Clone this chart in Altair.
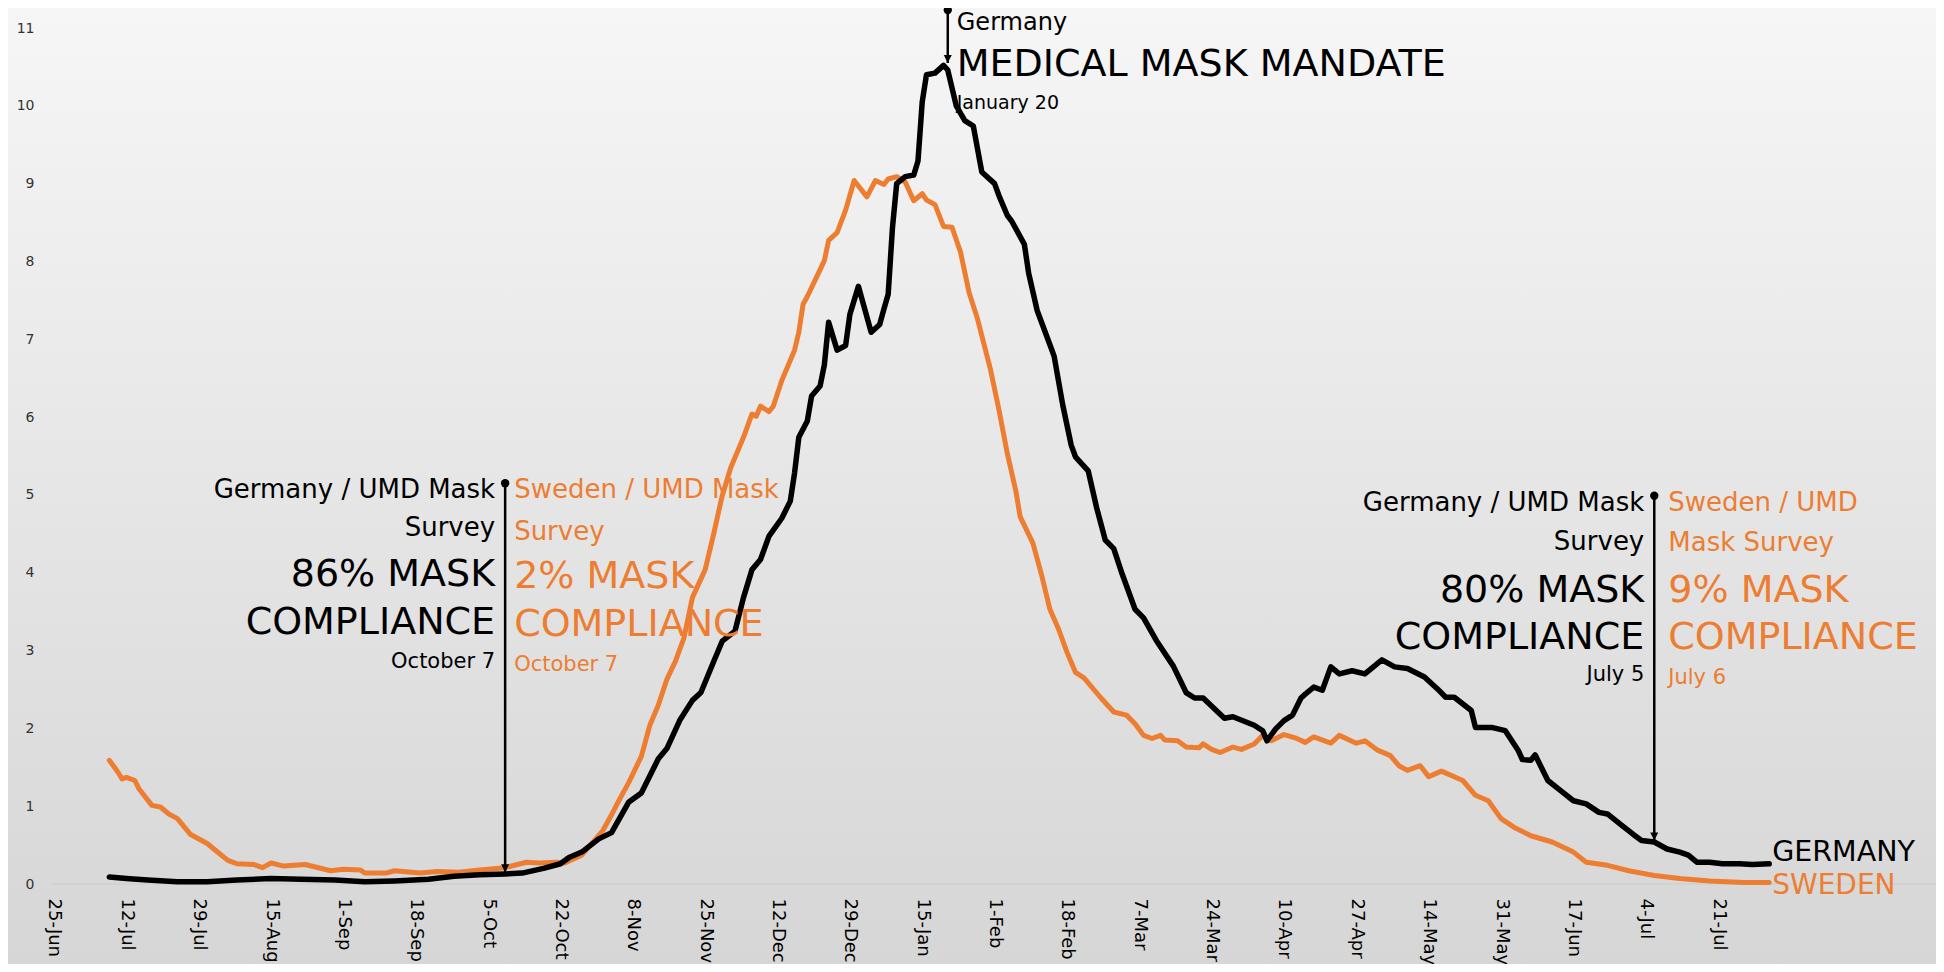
import altair as alt
import pandas as pd

# ---------------- data ----------------
tick_dates = ["2020-06-25", "2020-07-12", "2020-07-29", "2020-08-15", "2020-09-01",
              "2020-09-18", "2020-10-05", "2020-10-22", "2020-11-08", "2020-11-25",
              "2020-12-12", "2020-12-29", "2021-01-15", "2021-02-01", "2021-02-18",
              "2021-03-07", "2021-03-24", "2021-04-10", "2021-04-27", "2021-05-14",
              "2021-05-31", "2021-06-17", "2021-07-04", "2021-07-21"]

germany_dates = [
    "2020-07-08", "2020-07-12", "2020-07-17", "2020-07-24", "2020-07-31", "2020-08-07",
    "2020-08-15", "2020-08-22", "2020-08-30", "2020-09-06", "2020-09-13", "2020-09-21",
    "2020-09-27", "2020-10-03", "2020-10-09", "2020-10-13", "2020-10-18", "2020-10-22",
    "2020-10-24", "2020-10-27", "2020-10-31", "2020-11-03", "2020-11-07", "2020-11-10",
    "2020-11-14", "2020-11-16", "2020-11-19", "2020-11-22", "2020-11-24", "2020-11-27",
    "2020-11-29", "2020-12-02", "2020-12-04", "2020-12-06", "2020-12-08", "2020-12-10",
    "2020-12-13", "2020-12-15", "2020-12-16", "2020-12-17", "2020-12-19", "2020-12-20",
    "2020-12-22", "2020-12-23", "2020-12-24", "2020-12-26", "2020-12-28", "2020-12-29",
    "2020-12-31", "2021-01-03", "2021-01-05", "2021-01-06", "2021-01-07", "2021-01-08",
    "2021-01-09", "2021-01-11", "2021-01-13", "2021-01-14", "2021-01-15", "2021-01-16",
    "2021-01-18", "2021-01-20", "2021-01-21", "2021-01-23", "2021-01-25", "2021-01-27",
    "2021-01-29", "2021-02-01", "2021-02-02", "2021-02-04", "2021-02-05", "2021-02-08",
    "2021-02-09", "2021-02-11", "2021-02-14", "2021-02-15", "2021-02-17", "2021-02-19",
    "2021-02-20", "2021-02-23", "2021-02-25", "2021-02-27", "2021-03-01", "2021-03-03",
    "2021-03-06", "2021-03-08", "2021-03-11", "2021-03-15", "2021-03-18", "2021-03-20",
    "2021-03-22", "2021-03-27", "2021-03-29", "2021-04-03", "2021-04-05", "2021-04-06",
    "2021-04-08", "2021-04-10", "2021-04-12", "2021-04-14", "2021-04-15", "2021-04-17",
    "2021-04-19", "2021-04-21", "2021-04-23", "2021-04-26", "2021-04-29", "2021-05-01",
    "2021-05-03", "2021-05-06", "2021-05-09", "2021-05-13", "2021-05-16", "2021-05-18",
    "2021-05-20", "2021-05-24", "2021-05-25", "2021-05-29", "2021-06-01", "2021-06-04",
    "2021-06-05", "2021-06-07", "2021-06-08", "2021-06-11", "2021-06-14", "2021-06-17",
    "2021-06-20", "2021-06-23", "2021-06-25", "2021-06-28", "2021-07-01", "2021-07-03",
    "2021-07-06", "2021-07-09", "2021-07-12", "2021-07-14", "2021-07-16", "2021-07-19",
    "2021-07-22", "2021-07-26", "2021-07-29", "2021-08-02"]
germany_values = [
    0.09, 0.07, 0.05, 0.03, 0.03, 0.05,
    0.07, 0.06, 0.05, 0.03, 0.04, 0.06,
    0.10, 0.12, 0.13, 0.14, 0.20, 0.26,
    0.34, 0.41, 0.58, 0.66, 1.05, 1.17,
    1.61, 1.74, 2.10, 2.36, 2.46, 2.86,
    3.12, 3.25, 3.68, 4.04, 4.17, 4.47,
    4.70, 4.92, 5.28, 5.74, 5.95, 6.27,
    6.40, 6.67, 7.22, 6.86, 6.92, 7.32,
    7.68, 7.09, 7.19, 7.39, 7.58, 8.43,
    9.00, 9.09, 9.11, 9.29, 10.05, 10.40,
    10.42, 10.52, 10.46, 10.00, 9.81, 9.74,
    9.15, 9.00, 8.85, 8.59, 8.52, 8.22,
    7.85, 7.37, 6.93, 6.78, 6.16, 5.64,
    5.49, 5.31, 4.83, 4.42, 4.31, 3.98,
    3.53, 3.42, 3.13, 2.80, 2.46, 2.39,
    2.39, 2.13, 2.15, 2.04, 1.97, 1.84,
    1.99, 2.10, 2.17, 2.39, 2.44, 2.53,
    2.49, 2.79, 2.70, 2.74, 2.70, 2.79,
    2.88, 2.79, 2.77, 2.66, 2.51, 2.40,
    2.40, 2.23, 2.01, 2.01, 1.97, 1.72,
    1.60, 1.59, 1.66, 1.33, 1.20, 1.07,
    1.03, 0.92, 0.90, 0.77, 0.64, 0.56,
    0.54, 0.45, 0.41, 0.37, 0.28, 0.28,
    0.26, 0.26, 0.25, 0.26]

sweden_dates = [
    "2020-07-08", "2020-07-10", "2020-07-11", "2020-07-12", "2020-07-14", "2020-07-15",
    "2020-07-18", "2020-07-20", "2020-07-22", "2020-07-24", "2020-07-27", "2020-07-31",
    "2020-08-02", "2020-08-04", "2020-08-05", "2020-08-07", "2020-08-11", "2020-08-13",
    "2020-08-15", "2020-08-18", "2020-08-23", "2020-08-29", "2020-09-01", "2020-09-05",
    "2020-09-06", "2020-09-11", "2020-09-13", "2020-09-19", "2020-09-23", "2020-09-28",
    "2020-10-03", "2020-10-09", "2020-10-14", "2020-10-17", "2020-10-21", "2020-10-23",
    "2020-10-27", "2020-10-30", "2020-11-01", "2020-11-03", "2020-11-05", "2020-11-07",
    "2020-11-10", "2020-11-12", "2020-11-14", "2020-11-16", "2020-11-18", "2020-11-20",
    "2020-11-22", "2020-11-25", "2020-11-27", "2020-11-29", "2020-12-01", "2020-12-04",
    "2020-12-06", "2020-12-07", "2020-12-08", "2020-12-10", "2020-12-11", "2020-12-13",
    "2020-12-16", "2020-12-17", "2020-12-18", "2020-12-19", "2020-12-21", "2020-12-23",
    "2020-12-24", "2020-12-26", "2020-12-28", "2020-12-30", "2021-01-02", "2021-01-04",
    "2021-01-06", "2021-01-07", "2021-01-09", "2021-01-11", "2021-01-13", "2021-01-15",
    "2021-01-16", "2021-01-18", "2021-01-20", "2021-01-22", "2021-01-24", "2021-01-26",
    "2021-01-28", "2021-01-31", "2021-02-02", "2021-02-04", "2021-02-06", "2021-02-07",
    "2021-02-10", "2021-02-12", "2021-02-14", "2021-02-16", "2021-02-18", "2021-02-20",
    "2021-02-22", "2021-02-26", "2021-03-01", "2021-03-04", "2021-03-06", "2021-03-08",
    "2021-03-10", "2021-03-12", "2021-03-13", "2021-03-16", "2021-03-18", "2021-03-21",
    "2021-03-22", "2021-03-24", "2021-03-26", "2021-03-29", "2021-03-31", "2021-04-03",
    "2021-04-05", "2021-04-07", "2021-04-10", "2021-04-13", "2021-04-15", "2021-04-17",
    "2021-04-21", "2021-04-23", "2021-04-27", "2021-04-29", "2021-05-02", "2021-05-05",
    "2021-05-07", "2021-05-09", "2021-05-12", "2021-05-14", "2021-05-17", "2021-05-22",
    "2021-05-25", "2021-05-28", "2021-05-31", "2021-06-03", "2021-06-07", "2021-06-12",
    "2021-06-17", "2021-06-20", "2021-06-25", "2021-06-30", "2021-07-06", "2021-07-12",
    "2021-07-19", "2021-07-27", "2021-08-02"]
sweden_values = [
    1.59, 1.44, 1.35, 1.37, 1.33, 1.22,
    1.01, 0.99, 0.90, 0.84, 0.64, 0.52,
    0.43, 0.34, 0.30, 0.26, 0.25, 0.21,
    0.27, 0.23, 0.25, 0.17, 0.19, 0.18,
    0.14, 0.14, 0.17, 0.14, 0.16, 0.15,
    0.18, 0.21, 0.28, 0.27, 0.28, 0.27,
    0.37, 0.56, 0.69, 0.89, 1.10, 1.30,
    1.64, 2.04, 2.30, 2.63, 2.86, 3.16,
    3.68, 4.04, 4.50, 4.99, 5.35, 5.74,
    6.04, 6.01, 6.14, 6.07, 6.14, 6.47,
    6.86, 7.09, 7.45, 7.55, 7.78, 8.01,
    8.27, 8.37, 8.66, 9.04, 8.83, 9.04,
    8.99, 9.06, 9.09, 9.02, 8.78, 8.87,
    8.79, 8.73, 8.45, 8.44, 8.12, 7.60,
    7.26, 6.62, 6.10, 5.53, 5.05, 4.72,
    4.38, 3.98, 3.53, 3.28, 2.98, 2.72,
    2.65, 2.39, 2.21, 2.17, 2.06, 1.91,
    1.87, 1.91, 1.85, 1.84, 1.76, 1.75,
    1.80, 1.73, 1.69, 1.76, 1.73, 1.80,
    1.91, 1.84, 1.92, 1.87, 1.82, 1.89,
    1.81, 1.91, 1.81, 1.84, 1.72, 1.65,
    1.52, 1.46, 1.52, 1.38, 1.45, 1.33,
    1.14, 1.07, 0.84, 0.73, 0.62, 0.54,
    0.41, 0.28, 0.24, 0.17, 0.11, 0.07,
    0.04, 0.02, 0.02]

series_names = ["GERMANY", "SWEDEN"]
y_ticks = list(range(0, 12))

# annotation arrows (date, top value, tip value)
ann_dates = ["2020-10-09", "2021-07-06", "2021-01-21"]
ann_top = [5.15, 4.99, 11.23]
ann_tip = [0.15, 0.56, 10.55]

oct_de_text = ["Germany / UMD Mask", "Survey", "86% MASK", "COMPLIANCE", "October 7"]
oct_de_y = [5.06, 4.57, 3.97, 3.35, 2.85]
oct_se_text = ["Sweden / UMD Mask", "Survey", "2% MASK", "COMPLIANCE", "October 7"]
oct_se_y = [5.06, 4.52, 3.94, 3.33, 2.82]
jul_de_text = ["Germany / UMD Mask", "Survey", "80% MASK", "COMPLIANCE", "July 5"]
jul_de_y = [4.89, 4.39, 3.77, 3.16, 2.68]
jul_se_text = ["Sweden / UMD", "Mask Survey", "9% MASK", "COMPLIANCE", "July 6"]
jul_se_y = [4.89, 4.38, 3.77, 3.16, 2.65]
jan_text = ["Germany", "MEDICAL MASK MANDATE", "January 20"]
jan_y = [11.06, 10.52, 10.03]

# ---------------- styles ----------------
BLACK = "#000000"
ORANGE = "#ED7D31"
FONT = "DejaVu Sans"
block_sizes = [26, 26, 38, 38, 21]
jan_sizes = [24, 38, 19]

W, H = 1885, 856
PAD = {"left": 43, "top": 20, "right": 0, "bottom": 80}

tick_ms = [int(pd.Timestamp(d, tz="UTC").timestamp() * 1000) for d in tick_dates]

xscale = alt.Scale(type="utc", domain=[
    alt.DateTime(year=2020, month=6, date=24, hours=7, minutes=5, utc=True),
    alt.DateTime(year=2021, month=9, date=10, hours=4, minutes=40, utc=True)])
yscale = alt.Scale(domain=[0, 11], nice=False, zero=True)

xaxis = alt.Axis(values=tick_ms, labelExpr="utcFormat(datum.value, '%-d-%b')",
                 labelAngle=90, labelAlign="left", labelBaseline="middle",
                 labelFont=FONT, labelFontSize=18, labelColor="black",
                 labelPadding=14, ticks=False, domain=False, grid=False,
                 title=None, labelOverlap=False, labelFlush=False, zindex=2)
yaxis = alt.Axis(values=y_ticks, labelFont=FONT, labelFontSize=14,
                 labelColor="#333333", labelPadding=17, ticks=False,
                 domain=False, grid=False, title=None, zindex=2)


def X(field):
    return alt.X(field, type="temporal", scale=xscale, axis=xaxis)


def Y(field):
    return alt.Y(field, type="quantitative", scale=yscale, axis=yaxis)


de = pd.DataFrame({"date": germany_dates, "value": germany_values})
se = pd.DataFrame({"date": sweden_dates, "value": sweden_values})

# background gradient
bg = alt.Chart(pd.DataFrame({"a": [0]})).mark_rect(
    fill=alt.Gradient(gradient="linear",
                      stops=[alt.GradientStop(color="#f6f6f6", offset=0),
                             alt.GradientStop(color="#d6d6d6", offset=1)],
                      x1=0, x2=0, y1=0, y2=1)
).encode(x=alt.value(-PAD["left"]), x2=alt.value(W + PAD["right"]),
         y=alt.value(-PAD["top"]), y2=alt.value(H + PAD["bottom"]))

zero = alt.Chart(pd.DataFrame({"date": [tick_dates[0]], "value": [0]})).mark_rule(
    color="#cbcbcb", strokeWidth=1).encode(y=Y("value"))

line_se = alt.Chart(se).mark_line(color=ORANGE, strokeWidth=5, strokeJoin="round",
                                  strokeCap="round").encode(x=X("date"), y=Y("value"))
line_de = alt.Chart(de).mark_line(color=BLACK, strokeWidth=5.5, strokeJoin="round",
                                  strokeCap="round").encode(x=X("date"), y=Y("value"))

ann = pd.DataFrame({"date": ann_dates, "top": ann_top, "tip": ann_tip})
ann_rule = alt.Chart(ann).mark_rule(color=BLACK, strokeWidth=2.5).encode(
    x=X("date"), y=Y("top"), y2="tip:Q")
ann_dot = alt.Chart(ann).mark_point(shape="circle", filled=True, size=70,
                                    color=BLACK, opacity=1).encode(
    x=X("date"), y=Y("top"))
ann_arrow = alt.Chart(ann).mark_point(shape="M-1,-2L1,-2L0,0Z", filled=True, size=64,
                                      color=BLACK, opacity=1).encode(
    x=X("date"), y=Y("tip"))


def text_layer(texts, ys, date, sizes, color, align, dx):
    df = pd.DataFrame({"date": [date] * len(texts), "value": ys,
                       "label": texts, "fs": sizes})
    return alt.Chart(df).mark_text(align=align, baseline="middle", dx=dx,
                                   color=color, font=FONT).encode(
        x=X("date"), y=Y("value"),
        text="label:N",
        size=alt.Size("fs:Q", scale=None, legend=None))


t1 = text_layer(oct_de_text, oct_de_y, ann_dates[0], block_sizes, BLACK, "right", -10)
t2 = text_layer(oct_se_text, oct_se_y, ann_dates[0], block_sizes, ORANGE, "left", 9)
t3 = text_layer(jul_de_text, jul_de_y, ann_dates[1], block_sizes, BLACK, "right", -10)
t4 = text_layer(jul_se_text, jul_se_y, ann_dates[1], block_sizes, ORANGE, "left", 14)
t5 = text_layer(jan_text, jan_y, ann_dates[2], jan_sizes, BLACK, "left", 9)

end_de = alt.Chart(pd.DataFrame({"date": [germany_dates[-1]], "value": [germany_values[-1]],
                                 "label": [series_names[0]]})).mark_text(
    align="left", baseline="middle", dx=3, dy=-12, fontSize=28.5, font=FONT,
    color=BLACK).encode(x=X("date"), y=Y("value"), text="label:N")
end_se = alt.Chart(pd.DataFrame({"date": [sweden_dates[-1]], "value": [sweden_values[-1]],
                                 "label": [series_names[1]]})).mark_text(
    align="left", baseline="middle", dx=3, dy=4, fontSize=28, font=FONT,
    color=ORANGE).encode(x=X("date"), y=Y("value"), text="label:N")

chart = alt.layer(
    bg, zero, line_se, line_de, ann_rule, ann_arrow, ann_dot,
    t1, t2, t3, t4, t5, end_de, end_se
).properties(
    width=W, height=H,
    autosize=alt.AutoSizeParams(type="none"),
    padding=PAD,
    title=alt.TitleParams("GERMANY & SWEDEN", font=FONT, fontSize=58, fontWeight="bold",
                          color="black", anchor="middle", baseline="alphabetic",
                          offset=17, dx=-26),
).configure_view(strokeWidth=0).configure(background="#ffffff")

chart.save("out.html", embed_options={"renderer": "svg", "actions": False})
